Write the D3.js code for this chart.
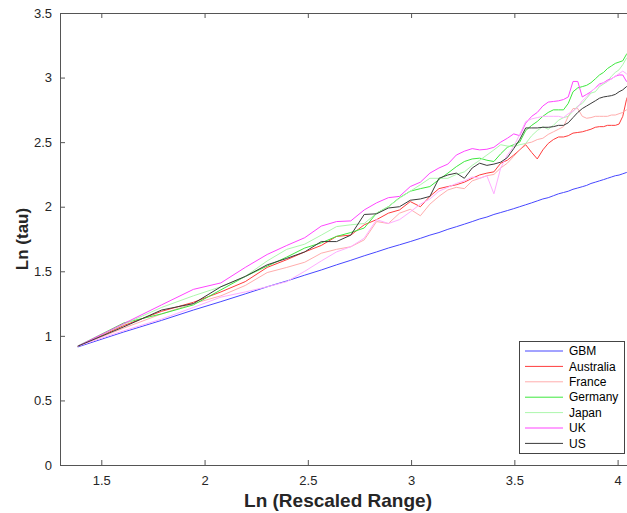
<!DOCTYPE html>
<html>
<head>
<meta charset="utf-8">
<script src="https://cdnjs.cloudflare.com/ajax/libs/d3/7.8.5/d3.min.js"></script>
<style>
body{margin:0;background:#fff;}
text{font-family:"Liberation Sans",Arial,sans-serif;}
</style>
</head>
<body>
<div id="chart"></div>
<script>
// x values: ln of the rescaled range
var lnRange=[1.386,1.609,1.792,1.946,2.079,2.197,2.303,2.398,2.485,2.565,
             2.639,2.708,2.773,2.833,2.890,2.944,2.996,3.045,3.091,3.135,
             3.178,3.219,3.258,3.296,3.332,3.367,3.401,3.434,3.466,3.497,
             3.526,3.555,3.584,3.611,3.638,3.664,3.689,3.714,3.738,3.761,
             3.784,3.807,3.829,3.850,3.871,3.892,3.912,3.932,3.951,3.970,
             3.989,4.007,4.025,4.043,4.060];

var gbm=[0.914,1.03,1.12,1.20,1.265,1.325,1.38,1.425,1.47,1.51,
         1.55,1.585,1.62,1.65,1.68,1.705,1.73,1.755,1.78,1.80,
         1.825,1.845,1.865,1.885,1.905,1.92,1.94,1.955,1.97,1.985,
         2.0,2.015,2.03,2.045,2.06,2.07,2.085,2.1,2.11,2.12,
         2.135,2.145,2.155,2.165,2.18,2.19,2.2,2.21,2.22,2.23,
         2.24,2.245,2.255,2.265,2.27];

var australia=[0.92,1.08,1.19,1.26,1.34,1.42,1.53,1.59,1.65,1.70,
               1.77,1.78,1.86,1.90,1.95,1.975,2.04,2.00,2.08,2.14,
               2.156,2.17,2.19,2.22,2.246,2.26,2.27,2.337,2.36,2.40,
               2.44,2.48,2.42,2.37,2.44,2.49,2.52,2.54,2.54,2.55,
               2.57,2.575,2.58,2.59,2.60,2.615,2.62,2.62,2.63,2.63,
               2.63,2.64,2.70,2.83,2.90];

var france=[0.92,1.06,1.17,1.25,1.31,1.39,1.49,1.53,1.57,1.64,
            1.67,1.69,1.743,1.885,1.87,1.95,1.98,1.93,2.02,2.08,
            2.13,2.15,2.14,2.20,2.22,2.24,2.25,2.30,2.337,2.39,
            2.44,2.49,2.50,2.52,2.53,2.56,2.58,2.60,2.62,2.70,
            2.76,2.76,2.70,2.685,2.69,2.70,2.70,2.70,2.70,2.71,
            2.71,2.72,2.73,2.75,2.76];

var germany=[0.92,1.10,1.17,1.24,1.356,1.46,1.54,1.61,1.68,1.72,
             1.77,1.80,1.835,1.95,2.0,2.07,2.12,2.14,2.156,2.21,
             2.26,2.31,2.35,2.37,2.376,2.36,2.35,2.41,2.46,2.48,
             2.50,2.59,2.63,2.66,2.70,2.73,2.75,2.75,2.75,2.80,
             2.89,2.92,2.93,2.94,2.96,2.99,3.02,3.04,3.07,3.09,
             3.11,3.12,3.13,3.18,3.21];

var japan=[0.92,1.09,1.22,1.31,1.38,1.46,1.58,1.67,1.71,1.78,
           1.846,1.86,1.87,1.95,2.0,2.066,2.12,2.17,2.22,2.22,
           2.22,2.25,2.27,2.32,2.36,2.40,2.44,2.48,2.47,2.466,
           2.48,2.49,2.55,2.59,2.62,2.60,2.63,2.67,2.69,2.70,
           2.74,2.78,2.80,2.84,2.88,2.89,2.93,2.95,2.97,3.01,
           3.04,3.06,3.10,3.15,3.17];

var uk=[0.92,1.095,1.24,1.36,1.41,1.53,1.63,1.70,1.76,1.85,
        1.885,1.89,1.975,2.03,2.07,2.08,2.156,2.19,2.26,2.30,
        2.33,2.40,2.43,2.45,2.44,2.445,2.46,2.50,2.53,2.564,
        2.55,2.647,2.70,2.73,2.78,2.81,2.815,2.82,2.83,2.85,
        2.97,2.97,2.85,2.87,2.89,2.92,2.95,2.96,2.98,2.99,
        3.01,3.02,3.02,2.97,2.95];

// extra series drawn in the figure but not listed in the legend
var unlisted=[0.92,1.04,1.13,1.22,1.30,1.34,1.38,1.42,1.50,1.58,
              1.65,1.69,1.756,1.90,1.87,1.90,1.96,2.02,2.06,2.12,
              2.15,2.18,2.20,2.23,2.22,2.24,2.10,2.30,2.40,2.466,
              2.56,2.66,2.68,2.69,2.70,2.70,2.70,2.70,2.69,2.72,
              2.74,2.77,2.82,2.85,2.89,2.92,2.94,2.96,2.97,2.99,
              3.01,3.03,3.05,3.03,3.00];

var us=[0.92,1.07,1.20,1.25,1.38,1.46,1.55,1.60,1.65,1.73,
        1.73,1.78,1.94,1.945,1.99,2.0,2.05,2.06,2.08,2.22,
        2.246,2.26,2.22,2.30,2.337,2.32,2.33,2.345,2.38,2.45,
        2.52,2.61,2.61,2.61,2.615,2.615,2.62,2.63,2.63,2.65,
        2.69,2.73,2.76,2.78,2.80,2.82,2.84,2.85,2.855,2.86,
        2.87,2.89,2.905,2.93,2.94];

var seriesNames=["GBM","Australia","France","Germany","Japan","UK","","US"];
var seriesValues=[gbm,australia,france,germany,japan,uk,unlisted,us];
var seriesColors=["#4747ff","#ff3c3c","#ffadad","#3ee83e","#adf7ad","#ff45ff","#ffadff","#3a3a3a"];
var xTicks=[1.5,2,2.5,3,3.5,4];
var yTicks=[0,0.5,1,1.5,2,2.5,3,3.5];


function ScalingChart(options){

    this.width=options.width||627;
    this.height=options.height||513;
    this.ele=options.ele||"body";
    this.left=60;
    this.right=630;
    this.top=13;
    this.bottom=465;
    this.svg=d3.select(this.ele).append("svg")
               .attr("width",this.width)
               .attr("height",this.height);

    this.x=d3.scaleLinear().domain([1.3,4.06]).range([this.left,this.right]);
    this.y=d3.scaleLinear().domain([0,3.5]).range([this.bottom,this.top]);

}

ScalingChart.prototype.axes=function(){

    var svg=this.svg, x=this.x, y=this.y;
    var fmt=d3.format("");

    var bottom=svg.append("g")
        .attr("transform","translate(0,"+this.bottom+")")
        .call(d3.axisBottom(x).tickValues(xTicks).tickFormat(fmt)
              .tickSizeInner(-5).tickSizeOuter(0).tickPadding(11));

    var top=svg.append("g")
        .attr("transform","translate(0,"+this.top+")")
        .call(d3.axisTop(x).tickValues(xTicks).tickFormat("")
              .tickSizeInner(-5).tickSizeOuter(0));

    var left=svg.append("g")
        .attr("transform","translate("+this.left+",0)")
        .call(d3.axisLeft(y).tickValues(yTicks).tickFormat(fmt)
              .tickSizeInner(-5).tickSizeOuter(0).tickPadding(8));

    [bottom,top,left].forEach(function(g){
        g.select(".domain").attr("stroke","#555");
        g.selectAll(".tick line").attr("stroke","#555");
        g.selectAll(".tick text").attr("fill","#262626")
         .style("font-size","13px");
    });

    svg.append("text")
        .attr("x",338)
        .attr("y",507)
        .attr("text-anchor","middle")
        .style("font-size","19px")
        .style("font-weight","bold")
        .attr("fill","#262626")
        .text("Ln (Rescaled Range)");

    svg.append("text")
        .attr("transform","translate(28,"+((this.top+this.bottom)/2)+") rotate(-90)")
        .attr("text-anchor","middle")
        .style("font-size","17px")
        .style("font-weight","bold")
        .attr("fill","#262626")
        .text("Ln (tau)");

};

ScalingChart.prototype.chart=function(){

    var x=this.x, y=this.y;

    this.svg.append("clipPath").attr("id","plot-clip")
        .append("rect")
        .attr("x",this.left).attr("y",this.top)
        .attr("width",this.right-this.left).attr("height",this.bottom-this.top);

    var line=d3.line()
        .x(function(d,i){return x(lnRange[i]);})
        .y(function(d){return y(d);});

    this.svg.append("g").attr("clip-path","url(#plot-clip)")
        .selectAll(".series")
        .data(seriesValues)
        .enter().append("path")
        .attr("class","series")
        .attr("fill","none")
        .attr("stroke",function(d,i){return seriesColors[i];})
        .attr("stroke-width",1)
        .attr("d",line);

};

ScalingChart.prototype.legend=function(){

    var items=[];
    seriesNames.forEach(function(n,i){ if(n) items.push({name:n,color:seriesColors[i]}); });

    var g=this.svg.append("g").attr("transform","translate(519.5,341.5)");

    g.append("rect")
        .attr("width",105).attr("height",112)
        .attr("fill","#fff").attr("stroke","#444").attr("stroke-width",1);

    var row=g.selectAll(".item").data(items).enter().append("g")
        .attr("class","item")
        .attr("transform",function(d,i){return "translate(0,"+(9.5+i*15.4)+")";});

    row.append("line")
        .attr("x1",5.5).attr("x2",43.5)
        .attr("stroke",function(d){return d.color;})
        .attr("stroke-width",1);

    row.append("text")
        .attr("x",49.5).attr("dy","0.35em")
        .style("font-size","12px")
        .attr("fill","#000")
        .text(function(d){return d.name;});

};

var c=new ScalingChart({ele:"#chart"});
c.axes();
c.chart();
c.legend();
</script>
</body>
</html>
